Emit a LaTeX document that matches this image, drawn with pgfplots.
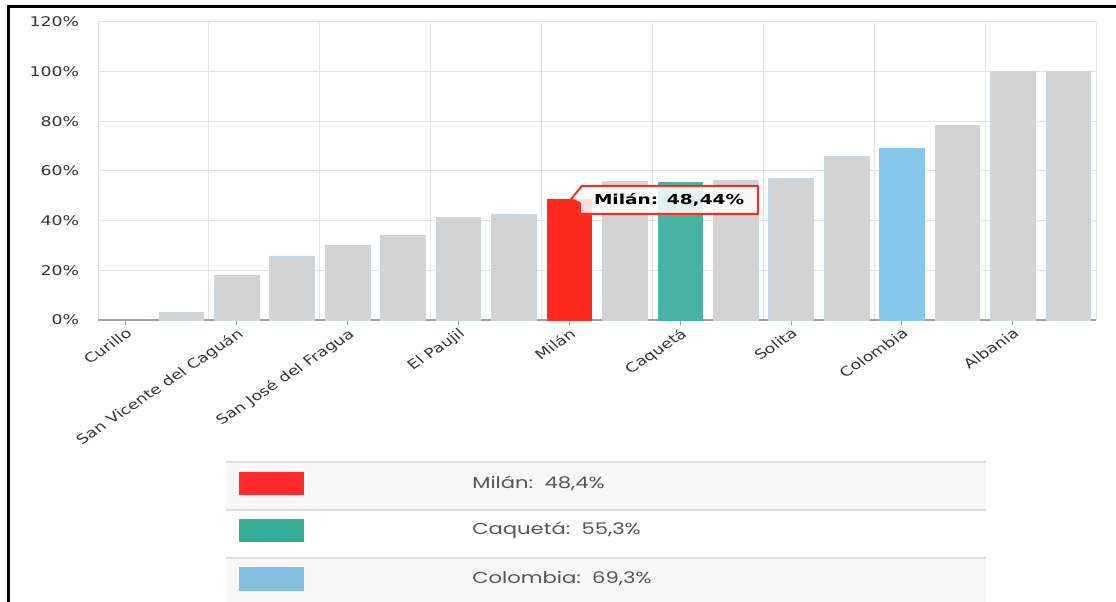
\documentclass[border=0pt]{standalone}
\usepackage{pgfplots}
\pgfplotsset{compat=1.18}
\usepackage{pgfplotstable}
\usepackage{fontspec}
\setmainfont{DejaVu Sans}
\newfontfamily\legfont{Poppins}
\definecolor{bargray}{HTML}{D3D3D3}
\definecolor{baredge}{HTML}{C9D7E2}
\definecolor{milred}{HTML}{FF2A1E}
\definecolor{caqteal}{HTML}{47B3A0}
\definecolor{colblue}{HTML}{86C7EA}
\definecolor{gridc}{HTML}{E3E3E3}
\definecolor{axisc}{HTML}{A0A0A0}
\definecolor{txt}{HTML}{333333}
\definecolor{legred}{HTML}{FF2B2B}
\definecolor{legteal}{HTML}{33AD96}
\definecolor{legblue}{HTML}{83C0E0}
\definecolor{rowbg}{HTML}{F7F7F7}
\definecolor{rowline}{HTML}{E0E0E0}
\definecolor{legtxt}{HTML}{555555}

\pgfplotstableread{
x y
1 2.9
2 17.8
3 25.8
4 29.9
5 34.2
6 41.2
7 42.7
9 55.7
11 56.1
12 57.0
13 66.0
15 78.5
16 100
17 100
}\graydata

\begin{document}
\begin{tikzpicture}
\useasboundingbox (0,0) rectangle (837pt,451.5pt);
\fill[white] (0,0) rectangle (837pt,451.5pt);
% legend table
\fill[rowbg] (169.5pt,69pt) rectangle (739.5pt,105pt);
\fill[rowbg] (169.5pt,0pt) rectangle (739.5pt,33pt);
\draw[rowline, line width=1.1pt] (169.5pt,105pt) -- (739.5pt,105pt);
\draw[rowline, line width=1.1pt] (169.5pt,69pt) -- (739.5pt,69pt);
\draw[rowline, line width=1.1pt] (169.5pt,33pt) -- (739.5pt,33pt);
\fill[legred] (179.25pt,80.25pt) rectangle (228pt,97.5pt);
\fill[legteal] (179.25pt,45pt) rectangle (228pt,62.25pt);
\fill[legblue] (179.25pt,8.25pt) rectangle (228pt,26.25pt);
\begin{scope}[every node/.style={anchor=west, inner sep=0pt, text=legtxt, font=\legfont\fontsize{12}{14}\selectfont, xscale=1.32}]
\node at (354pt,88.9pt) {Milán:\ \ 48,4\%};
\node at (354pt,53.6pt) {Caquetá:\ \ 55,3\%};
\node at (354pt,17.25pt) {Colombia:\ \ 69,3\%};
\end{scope}
% frame
\draw[black, line width=2.25pt] (6pt,0) -- (6pt,446.25pt) -- (837pt,446.25pt);
\begin{axis}[
  at={(73.5pt,211.5pt)}, anchor=south west,
  scale only axis, width=748.5pt, height=223.5pt,
  xmin=-0.5, xmax=17.5, ymin=0, ymax=120,
  ybar, bar width=33.5pt,
  axis x line=bottom, axis y line=left,
  x axis line style={axisc, line width=1.5pt, -},
  y axis line style={draw=none},
  xtick={0,2,...,16},
  xticklabels={Curillo, San Vicente del Caguán, San José del Fragua, El Paujil, Milán, Caquetá, Solita, Colombia, Albania},
  minor xtick={-0.5,1.5,...,17.5},
  xminorgrids=true, xmajorgrids=false, ymajorgrids=true,
  grid style={gridc, line width=0.75pt},
  minor grid style={gridc, line width=0.75pt},
  ytick={0,20,...,120},
  yticklabels={0\%,20\%,40\%,60\%,80\%,100\%,120\%},
  major tick length=4pt, minor tick length=0pt, tick align=outside,
  xtick style={axisc, line width=0.75pt},
  ytick style={draw=none},
  yticklabel style={font=\fontsize{10}{12}\selectfont, text=txt, anchor=east, xscale=1.3, xshift=-4.25pt},
  xticklabel style={font=\fontsize{10}{12}\selectfont, text=txt, cm={1.02,0.688,-0.75,0.75,(0,0)}, anchor=north east, inner sep=1pt},
  clip=false,
]
\addplot[bar shift=0pt, fill=bargray, draw=none] coordinates {(0,0)};
\addplot[bar shift=0pt, fill=bargray, draw=baredge, line width=0.5pt] table[x=x,y=y] {\graydata};
\addplot[bar shift=0pt, fill=milred, draw=milred, line width=0.5pt] coordinates {(8,48.44)};
\addplot[bar shift=0pt, fill=caqteal, draw=caqteal, line width=0.5pt] coordinates {(10,55.3)};
\addplot[bar shift=0pt, fill=colblue, draw=colblue, line width=0.5pt] coordinates {(14,69.3)};
% tooltip
\draw[milred, line width=1.5pt, fill=white, fill opacity=0.85, line join=round]
  (axis cs:8.23,54) -- (axis cs:11.40,54) -- (axis cs:11.40,42.7) -- (axis cs:8.19,42.7)
  -- (axis cs:8.19,47.1) -- (axis cs:8.03,48.7) -- cycle;
\node[font=\bfseries\fontsize{10.3}{12}\selectfont, text=black, xscale=1.35, inner sep=0pt] at (axis cs:9.80,48.3) {Milán: 48,44\%};
\end{axis}
\end{tikzpicture}
\end{document}
